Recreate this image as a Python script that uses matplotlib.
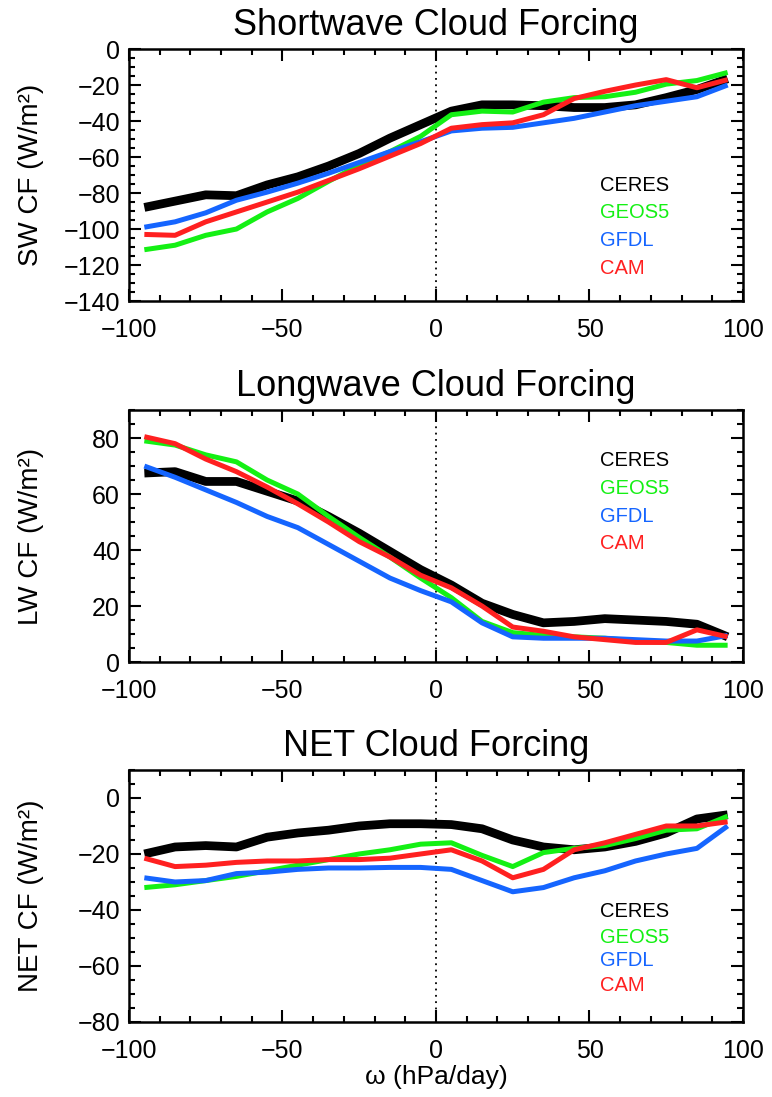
import matplotlib
matplotlib.use('Agg')
import matplotlib.pyplot as plt
from matplotlib.ticker import MultipleLocator

plt.rcParams['font.family'] = ['Liberation Sans', 'DejaVu Sans']
plt.rcParams['axes.linewidth'] = 1.8

# vertical velocity bins (hPa/day)
omega = [-95, -85, -75, -65, -55, -45, -35, -25, -15, -5,
         5, 15, 25, 35, 45, 55, 65, 75, 85, 95]

models = ['CERES', 'GEOS5', 'GFDL', 'CAM']
colors = ['black', '#14f014', '#1565ff', '#ff2020']
widths = [6.3, 3.6, 3.6, 3.6]

# shortwave cloud forcing (W/m2)
sw_ceres = [-88, -84.5, -81, -81.5, -75.5, -71, -65, -58, -49.5, -42,
            -34.5, -31, -31, -31.5, -32.5, -32.5, -31, -27, -22.5, -16.5]
sw_geos5 = [-111.5, -109, -103.5, -100, -90.5, -83, -73.5, -64.5, -57, -48.5,
            -36.5, -34.5, -35, -29.5, -27, -26.5, -24, -19.5, -17.5, -13]
sw_gfdl = [-99, -96, -91, -84, -79.5, -74.5, -69, -63, -57, -51.5,
           -45.5, -44, -43.5, -41, -38.5, -35, -31.5, -29, -26.5, -20]
sw_cam = [-103, -103.5, -96, -90.5, -85, -79.5, -73, -66.5, -59.5, -52.5,
          -44, -42, -41, -36.5, -27.5, -23.5, -20, -17, -21.5, -17]

# longwave cloud forcing (W/m2)
lw_ceres = [67.5, 68, 64.5, 64.5, 61, 57.5, 52, 46, 39.5, 33,
            27.5, 21, 17, 14, 14.5, 15.5, 15, 14.5, 13.5, 9]
lw_geos5 = [79, 77.5, 74, 71.5, 65, 60, 52, 44.5, 37.5, 30,
            23, 14.5, 10.5, 9.5, 9, 8.5, 7.5, 7, 6, 6]
lw_gfdl = [70, 66, 61.5, 57, 52, 48, 42, 36, 30, 25.5,
           21.5, 14, 9, 8.5, 8.5, 8.5, 8, 7.5, 7.5, 9.5]
lw_cam = [80.5, 78, 72.5, 68, 62.5, 56.5, 50, 43, 37.5, 31,
          26.5, 20, 12.5, 11, 9, 8, 7, 7, 11.5, 9]

# net cloud forcing (W/m2)
net_ceres = [-20, -17.5, -17, -17.5, -14, -12.5, -11.5, -10, -9.2, -9.2,
             -9.5, -11, -15, -17.5, -18.5, -17.5, -15.5, -12.5, -7.5, -6]
net_geos5 = [-32, -31, -29.5, -28, -26, -24, -22, -20, -18.5, -16.5,
             -16, -20.5, -24.5, -19.5, -18, -17, -14.5, -11.5, -11, -6.5]
net_gfdl = [-28.5, -30, -29.5, -27, -26.5, -25.5, -25, -25, -24.8, -24.8,
            -25.5, -29.5, -33.5, -32, -28.5, -26, -22.5, -20, -18, -10]
net_cam = [-21.5, -24.5, -24, -23, -22.5, -22.5, -22, -22, -21.5, -20,
           -18.5, -22.5, -28.5, -25.5, -18.5, -16, -13, -10, -10, -8.5]

titles = ['Shortwave Cloud Forcing', 'Longwave Cloud Forcing', 'NET Cloud Forcing']
ylabels = ['SW CF (W/m²)', 'LW CF (W/m²)', 'NET CF (W/m²)']
ylims = [(-140, 0), (0, 90), (-80, 10)]
panel_data = [[sw_ceres, sw_geos5, sw_gfdl, sw_cam],
              [lw_ceres, lw_geos5, lw_gfdl, lw_cam],
              [net_ceres, net_geos5, net_gfdl, net_cam]]
# label rows, axes fraction
legend_rows = [[0.46, 0.35, 0.242, 0.131],
               [0.798, 0.688, 0.579, 0.469],
               [0.437, 0.337, 0.242, 0.143]]
bottoms = [0.7256, 0.3965, 0.0684]


def draw_panel(ax, title, ylabel, ylim, data, rows):
    ax.axvline(0, color='k', lw=1.3, ls=(0, (1, 2.5)), zorder=1)
    for vals, c, w in zip(data, colors, widths):
        ax.plot(omega, vals, color=c, lw=w, solid_capstyle='butt', zorder=2)
    for name, c, y in zip(models, colors, rows):
        ax.text(0.767, y, name, color=c, fontsize=14.5, va='center',
                transform=ax.transAxes)

    ax.set_xlim(-100, 100)
    ax.set_ylim(*ylim)
    ax.xaxis.set_major_locator(MultipleLocator(50))
    ax.xaxis.set_minor_locator(MultipleLocator(10))
    ax.yaxis.set_major_locator(MultipleLocator(20))
    ax.yaxis.set_minor_locator(MultipleLocator(5))
    ax.tick_params(which='both', direction='in', top=True, right=True,
                   width=1.5, labelsize=18)
    ax.tick_params(which='major', length=8.6)
    ax.tick_params(which='minor', length=4.3)
    ax.tick_params(axis='x', pad=12)
    ax.tick_params(axis='y', pad=6.5)

    ax.set_title(title, fontsize=26, pad=10)
    ax.set_ylabel(ylabel, fontsize=20)
    ax.yaxis.set_label_coords(-0.138, 0.5)


fig = plt.figure(figsize=(7.72, 10.97), dpi=100)
for i in range(3):
    ax = fig.add_axes([0.1671, bottoms[i], 0.7953, 0.2297])
    draw_panel(ax, titles[i], ylabels[i], ylims[i], panel_data[i], legend_rows[i])
ax.set_xlabel('ω (hPa/day)', fontsize=19, labelpad=2)

fig.savefig('out.png', dpi=100)
